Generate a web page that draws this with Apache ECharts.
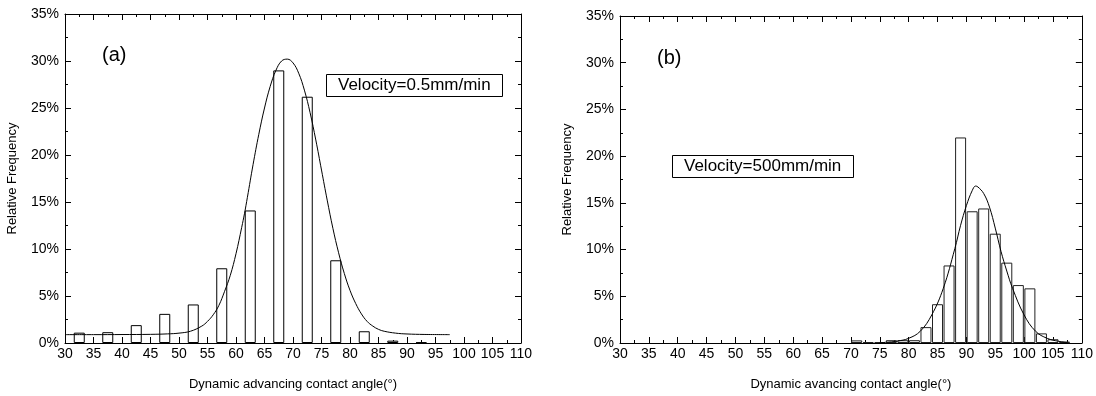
<!DOCTYPE html>
<html>
<head>
<meta charset="utf-8">
<script src="https://cdn.jsdelivr.net/npm/echarts@6/dist/echarts.min.js"></script>
<style>
  html, body { margin: 0; padding: 0; background: #fff; }
  #chart { width: 1096px; height: 396px; }
</style>
</head>
<body>
<div id="chart"></div>
<script>
// panel (a): velocity 0.5 mm/min
var binsA = [32.5, 37.5, 42.5, 47.5, 52.5, 57.5, 62.5, 67.5, 72.5, 77.5, 82.5, 87.5, 92.5];
var freqA = [1.1, 1.15, 1.9, 3.1, 4.1, 7.95, 14.1, 29.0, 26.2, 8.8, 1.25, 0.25, 0.07];
var fitXA = [30, 35, 40, 45, 48, 50, 52, 54, 55, 56, 57, 58, 59, 60, 61, 61.5, 62, 63, 64, 65, 66, 67, 68, 69, 70, 71, 72, 73, 74, 75, 76, 77, 78, 79, 80, 81, 82, 83, 84, 85, 86, 88, 90, 93, 97.5];
var fitYA = [0.89, 0.89, 0.9, 0.92, 0.97, 1.05, 1.25, 1.8, 2.3, 3.0, 4.0, 5.5, 7.2, 9.5, 12.3, 13.8, 15.5, 19.0, 22.2, 25.0, 27.3, 29.0, 30.0, 30.2, 29.8, 28.7, 26.9, 24.5, 21.6, 18.4, 15.2, 12.2, 9.6, 7.4, 5.6, 4.2, 3.1, 2.3, 1.8, 1.45, 1.25, 1.05, 0.96, 0.91, 0.89];

// panel (b): velocity 500 mm/min
var binsB = [71, 73, 75, 77, 79, 81, 83, 85, 87, 89, 91, 93, 95, 97, 99, 101, 103, 105, 107];
var freqB = [0.28, 0.1, 0.1, 0.3, 0.3, 0.3, 1.7, 4.15, 8.3, 22.0, 14.1, 14.4, 11.7, 8.6, 6.2, 5.85, 1.03, 0.4, 0.15];
var fitXB = [75, 76, 78, 80, 82, 84, 86, 88, 89, 90, 91, 91.6, 92, 93, 94, 95, 96, 97, 98, 100, 102, 104, 106, 107.5];
var fitYB = [0.03, 0.07, 0.2, 0.5, 1.25, 3.0, 5.85, 10.1, 12.6, 14.7, 16.3, 16.8, 16.7, 16.0, 14.55, 12.3, 9.8, 7.7, 5.85, 3.0, 1.25, 0.5, 0.18, 0.05];

var xTicks = { min: 30, max: 110, interval: 5 };
var yTicks = { min: 0, max: 35, interval: 5 };

function pairs(xs, ys) {
  return xs.map(function (x, i) { return [x, ys[i]]; });
}

var font = 'Arial, "Liberation Sans", sans-serif';

function xAxis(grid, name, top) {
  return {
    type: 'value', gridIndex: grid, position: top ? 'top' : 'bottom',
    min: xTicks.min, max: xTicks.max, interval: xTicks.interval,
    name: top ? '' : name, nameLocation: 'middle', nameGap: 35,
    nameTextStyle: { fontSize: 13, color: '#000', fontFamily: font },
    axisLine: { show: true, onZero: false, lineStyle: { color: '#000', width: 1 } },
    axisTick: { show: true, inside: true, length: 6, lineStyle: { color: '#000' } },
    minorTick: { show: true, splitNumber: 2, length: 3, lineStyle: { color: '#000' } },
    axisLabel: { show: !top, fontSize: 14, color: '#000', fontFamily: font, margin: 4 },
    splitLine: { show: false }
  };
}

function yAxis(grid, right) {
  return {
    type: 'value', gridIndex: grid, position: right ? 'right' : 'left',
    min: yTicks.min, max: yTicks.max, interval: yTicks.interval,
    name: right ? '' : 'Relative Frequency', nameLocation: 'middle', nameGap: 46,
    nameTextStyle: { fontSize: 13, color: '#000', fontFamily: font },
    axisLine: { show: true, onZero: false, lineStyle: { color: '#000', width: 1 } },
    axisTick: { show: true, inside: true, length: 6, lineStyle: { color: '#000' } },
    minorTick: { show: true, splitNumber: 2, length: 3, lineStyle: { color: '#000' } },
    axisLabel: { show: !right, fontSize: 14, color: '#000', fontFamily: font, margin: 6, formatter: '{value}%' },
    splitLine: { show: false }
  };
}

var chart = echarts.init(document.getElementById('chart'));

var option = {
  backgroundColor: '#fff',
  animation: false,
  title: [
    { text: '(a)', left: 97, top: 40, textStyle: { fontSize: 20, fontWeight: 'normal', color: '#000', fontFamily: font } },
    { text: '(b)', left: 652, top: 43, textStyle: { fontSize: 20, fontWeight: 'normal', color: '#000', fontFamily: font } },
    { text: 'Velocity=0.5mm/min', left: 326, top: 74, padding: [3, 12, 3, 12], borderWidth: 1, borderColor: '#000',
      textStyle: { fontSize: 17, fontWeight: 'normal', color: '#000', fontFamily: font } },
    { text: 'Velocity=500mm/min', left: 672, top: 155, padding: [3, 12, 3, 12], borderWidth: 1, borderColor: '#000',
      textStyle: { fontSize: 17, fontWeight: 'normal', color: '#000', fontFamily: font } }
  ],
  grid: [
    { left: 65, top: 14, width: 456, height: 329 },
    { left: 620, top: 16, width: 464, height: 329 }
  ],
  xAxis: [
    xAxis(0, 'Dynamic advancing contact angle(°)', false),
    xAxis(0, '', true),
    xAxis(1, 'Dynamic avancing contact angle(°)', false),
    xAxis(1, '', true)
  ],
  yAxis: [yAxis(0, false), yAxis(0, true), yAxis(1, false), yAxis(1, true)],
  series: [
    {
      type: 'bar', xAxisIndex: 0, yAxisIndex: 0, barWidth: 11,
      data: pairs(binsA, freqA),
      itemStyle: { color: '#fff', borderColor: '#000', borderWidth: 1 }
    },
    {
      type: 'line', xAxisIndex: 0, yAxisIndex: 0, smooth: 0.4, showSymbol: false, z: 5,
      data: pairs(fitXA, fitYA),
      lineStyle: { color: '#000', width: 1 }
    },
    {
      type: 'bar', xAxisIndex: 2, yAxisIndex: 2, barWidth: 11,
      data: pairs(binsB, freqB),
      itemStyle: { color: '#fff', borderColor: '#222', borderWidth: 1 }
    },
    {
      type: 'line', xAxisIndex: 2, yAxisIndex: 2, smooth: 0.4, showSymbol: false, z: 5,
      data: pairs(fitXB, fitYB),
      lineStyle: { color: '#000', width: 1 }
    }
  ]
};

chart.setOption(option);
</script>
</body>
</html>
